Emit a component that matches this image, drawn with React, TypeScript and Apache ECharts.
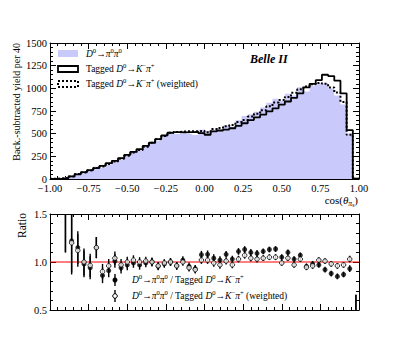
import React, { useEffect, useRef } from 'react';
import * as echarts from 'echarts';

const SERIF = '"Liberation Serif", "DejaVu Serif", serif';

// histogram binning: 50 bins of 0.04 from -1 to 1
const BIN_LOW = -1;
const BIN_WIDTH = 0.04;

// Tagged D0 -> K- pi+ (solid)
const taggedYield = [
  2, 5, 10, 28, 52, 75, 98, 120, 145, 175,
  200, 230, 265, 300, 330, 365, 400, 440, 480, 510,
  518, 515, 518, 520, 505, 488, 525, 535, 545, 560,
  585, 615, 650, 680, 710, 745, 780, 820, 855, 895,
  945, 1010, 1050, 1090, 1150, 1135, 1085, 945, 540, 4,
];

// D0 -> pi0 pi0 (filled)
const pi0pi0Yield = [
  3, 7, 16, 34, 60, 73, 92, 138, 125, 159,
  202, 216, 257, 297, 320, 361, 400, 420, 470, 510,
  497, 525, 495, 484, 543, 527, 546, 546, 589, 577,
  649, 695, 715, 741, 788, 842, 885, 861, 941, 922,
  1011, 965, 1029, 1057, 1058, 999, 922, 822, 502, 2,
];

// Tagged D0 -> K- pi+ (weighted, dotted)
const weightedYield = [
  3, 6, 12, 28, 54, 73, 95, 120, 139, 166,
  194, 223, 257, 291, 320, 357, 400, 438, 475, 510,
  518, 525, 527, 526, 532, 517, 552, 563, 583, 595,
  630, 650, 688, 719, 758, 802, 843, 870, 905, 951,
  990, 1020, 1045, 1060, 1050, 1010, 955, 850, 487, 2,
];

// ratio panel
const ratioTagged = [
  null, null, 1.65, 1.22, 1.15, 0.98, 0.94, 1.15, 0.86, 0.91,
  1.01, 0.94, 0.97, 0.99, 0.97, 0.99, 1.0, 0.955, 0.98, 1.0,
  0.96, 1.02, 0.955, 0.93, 1.076, 1.08, 1.04, 1.02, 1.08, 1.03,
  1.11, 1.13, 1.1, 1.09, 1.11, 1.13, 1.135, 1.05, 1.1, 1.03,
  1.07, 0.955, 0.98, 0.97, 0.92, 0.88, 0.85, 0.87, 0.93, 0.2,
];
const ratioWeighted = [
  null, null, 1.65, 1.2, 1.12, 1.0, 0.965, 1.15, 0.9, 0.96,
  1.04, 0.97, 1.0, 1.02, 1.0, 1.01, 1.0, 0.96, 0.99, 1.0,
  0.96, 1.0, 0.94, 0.92, 1.02, 1.02, 0.99, 0.97, 1.01, 0.97,
  1.03, 1.07, 1.04, 1.03, 1.04, 1.05, 1.05, 0.99, 1.04, 0.97,
  1.03, 0.945, 0.96, 1.02, 1.01, 0.98, 0.96, 0.97, 1.03, 0.2,
];
const ratioError = [
  null, null, 0.55, 0.33, 0.17, 0.14, 0.12, 0.11, 0.08, 0.07,
  0.07, 0.06, 0.055, 0.05, 0.05, 0.045, 0.045, 0.04, 0.04, 0.04,
  0.04, 0.04, 0.04, 0.04, 0.04, 0.04, 0.04, 0.04, 0.035, 0.035,
  0.035, 0.035, 0.035, 0.035, 0.03, 0.03, 0.03, 0.03, 0.03, 0.03,
  0.03, 0.03, 0.03, 0.03, 0.03, 0.03, 0.03, 0.03, 0.035, 0.46,
];

const X_MIN = -1, X_MAX = 1, X_STEP = 0.25;
const Y_MIN = 0, Y_MAX = 1500, Y_STEP = 250;
const R_MIN = 0.5, R_MAX = 1.5, R_STEP = 0.5;

const FILL = '#c9c9fb';

const edge = (i: number) => Number((BIN_LOW + i * BIN_WIDTH).toFixed(4));
const center = (i: number) => Number((BIN_LOW + (i + 0.5) * BIN_WIDTH).toFixed(4));

function stepData(vals: number[]) {
  const d: number[][] = vals.map((v, i) => [edge(i), v]);
  d.push([edge(vals.length), vals[vals.length - 1]]);
  return d;
}

function ratioData(vals: (number | null)[]) {
  const out: number[][] = [];
  vals.forEach((v, i) => {
    if (v !== null && ratioError[i] !== null) out.push([center(i), v, ratioError[i] as number]);
  });
  return out;
}

const errRender = (params: any, api: any) => {
  const x = api.value(0), y = api.value(1), e = api.value(2);
  const p1 = api.coord([x, y - e]);
  const p2 = api.coord([x, y + e]);
  return {
    type: 'line',
    shape: { x1: p1[0], y1: p1[1], x2: p2[0], y2: p2[1] },
    style: { stroke: '#000', lineWidth: 1.4 },
  };
};

const fmtX = (v: number) => (v < 0 ? '\u2212' : '') + Math.abs(v).toFixed(2);

const tick = {
  axisLine: { show: true, onZero: false, lineStyle: { color: '#000', width: 1 } },
  axisTick: { show: true, inside: true, length: 6, lineStyle: { color: '#000', width: 1 } },
  minorTick: { show: true, splitNumber: 5, length: 3, lineStyle: { color: '#000', width: 1 } },
  splitLine: { show: false },
  minorSplitLine: { show: false },
};

const labelStyle = { fontFamily: SERIF, fontSize: 10.5, color: '#000' };

const richBase = (size: number) => ({
  i: { fontFamily: SERIF, fontSize: size, fontStyle: 'italic', fill: '#000', lineHeight: 15, verticalAlign: 'middle' },
  n: { fontFamily: SERIF, fontSize: size, fill: '#000', lineHeight: 15, verticalAlign: 'middle' },
  sup: { fontFamily: SERIF, fontSize: size * 0.7, fill: '#000', lineHeight: 9, verticalAlign: 'top' },
  sub: { fontFamily: SERIF, fontSize: size * 0.7, fontStyle: 'italic', fill: '#000', lineHeight: 9, verticalAlign: 'bottom' },
  subsub: { fontFamily: SERIF, fontSize: size * 0.5, fill: '#000', lineHeight: 6, verticalAlign: 'bottom' },
});

const D0 = '{i|D}{sup|0}';
const PIPI = '{n|\u2192}{i|\u03c0}{sup|0}{i|\u03c0}{sup|0}';
const KPI = '{n|\u2192}{i|K}{sup|\u2212}{i|\u03c0}{sup|+}';

function richText(x: number, y: number, text: string, size: number, align = 'left') {
  return {
    type: 'text',
    x,
    y,
    style: {
      text,
      rich: richBase(size),
      fontFamily: SERIF,
      fontSize: size,
      fill: '#000',
      align,
      verticalAlign: 'middle',
    },
  };
}

export default function App() {
  const ref = useRef<HTMLDivElement>(null);

  useEffect(() => {
    if (!ref.current) return;
    const chart = echarts.init(ref.current, null, { renderer: 'svg' });

    const gridTop = { left: 50, top: 43, width: 309, height: 136 };
    const gridBot = { left: 50, top: 214, width: 309, height: 96 };

    const xBase = { type: 'value', min: X_MIN, max: X_MAX, interval: X_STEP, ...tick };

    chart.setOption({
      animation: false,
      backgroundColor: '#fff',
      grid: [gridTop, gridBot],
      xAxis: [
        { ...xBase, gridIndex: 0, position: 'bottom', axisLabel: { ...labelStyle, margin: 4, formatter: fmtX } },
        { ...xBase, gridIndex: 0, position: 'top', axisLabel: { show: false } },
        { ...xBase, gridIndex: 1, position: 'bottom', axisLabel: { show: false } },
        { ...xBase, gridIndex: 1, position: 'top', axisLabel: { show: false } },
      ],
      yAxis: [
        { type: 'value', gridIndex: 0, position: 'left', min: Y_MIN, max: Y_MAX, interval: Y_STEP, ...tick,
          axisLabel: { ...labelStyle, margin: 3, formatter: (v: number) => String(v) } },
        { type: 'value', gridIndex: 0, position: 'right', min: Y_MIN, max: Y_MAX, interval: Y_STEP, ...tick,
          axisLabel: { show: false } },
        { type: 'value', gridIndex: 1, position: 'left', min: R_MIN, max: R_MAX, interval: R_STEP, ...tick,
          axisLabel: { ...labelStyle, margin: 3, formatter: (v: number) => v.toFixed(1) } },
        { type: 'value', gridIndex: 1, position: 'right', min: R_MIN, max: R_MAX, interval: R_STEP, ...tick,
          axisLabel: { show: false } },
      ],
      series: [
        {
          type: 'line', xAxisIndex: 0, yAxisIndex: 0, step: 'end', symbol: 'none',
          data: stepData(pi0pi0Yield), lineStyle: { width: 0 },
          areaStyle: { color: FILL, opacity: 1 }, z: 1,
        },
        {
          type: 'line', xAxisIndex: 0, yAxisIndex: 0, step: 'end', symbol: 'none',
          data: stepData(taggedYield), lineStyle: { color: '#000', width: 1.8 }, z: 3,
        },
        {
          type: 'line', xAxisIndex: 0, yAxisIndex: 0, step: 'end', symbol: 'none',
          data: stepData(weightedYield), lineStyle: { color: '#000', width: 2, type: [2, 2] }, z: 4,
        },
        {
          type: 'line', xAxisIndex: 2, yAxisIndex: 2, symbol: 'none',
          data: [[X_MIN, 1], [X_MAX, 1]], lineStyle: { color: '#ff0000', width: 1.2 }, z: 2,
        },
        {
          type: 'custom', xAxisIndex: 2, yAxisIndex: 2, renderItem: errRender, clip: true,
          encode: { x: 0, y: 1 }, data: ratioData(ratioTagged), z: 3,
        },
        {
          type: 'scatter', xAxisIndex: 2, yAxisIndex: 2, symbol: 'circle', symbolSize: 5, clip: true,
          data: ratioData(ratioTagged).map((d) => [d[0], d[1]]), itemStyle: { color: '#000' }, z: 4,
        },
        {
          type: 'custom', xAxisIndex: 2, yAxisIndex: 2, renderItem: errRender, clip: true,
          encode: { x: 0, y: 1 }, data: ratioData(ratioWeighted), z: 5,
        },
        {
          type: 'scatter', xAxisIndex: 2, yAxisIndex: 2, symbol: 'circle', symbolSize: 4.5, clip: true,
          data: ratioData(ratioWeighted).map((d) => [d[0], d[1]]),
          itemStyle: { color: '#fff', borderColor: '#000', borderWidth: 1 }, z: 6,
        },
      ],
      graphic: [
        {
          type: 'text', x: 16, y: 43, rotation: Math.PI / 2,
          style: { text: 'Back.-subtracted yield per 40', fontFamily: SERIF, fontSize: 10, fill: '#000', align: 'right', verticalAlign: 'middle' },
        },
        {
          type: 'text', x: 22, y: 213, rotation: Math.PI / 2,
          style: { text: 'Ratio', fontFamily: SERIF, fontSize: 11.5, fill: '#000', align: 'right', verticalAlign: 'middle' },
        },
        {
          type: 'text', x: 250, y: 59,
          style: { text: 'Belle II', fontFamily: SERIF, fontSize: 12, fontWeight: 'bold', fontStyle: 'italic', fill: '#000', align: 'left', verticalAlign: 'middle' },
        },
        richText(358, 200, '{n|cos(}{i|\u03b8}{sub|\u03c0}{subsub|s}{n|)}', 11, 'right'),
        // top legend
        { type: 'rect', shape: { x: 58, y: 50, width: 20, height: 7 }, style: { fill: FILL } },
        richText(86, 54, D0 + PIPI, 9.5),
        { type: 'rect', shape: { x: 58, y: 66, width: 20, height: 6 }, style: { fill: 'none', stroke: '#000', lineWidth: 1.8 } },
        richText(86, 69, '{n|Tagged }' + D0 + KPI, 9.5),
        { type: 'rect', shape: { x: 58, y: 81, width: 20, height: 6 }, style: { fill: 'none', stroke: '#000', lineWidth: 2, lineDash: [2, 2] } },
        richText(86, 84, '{n|Tagged }' + D0 + KPI + '{n| (weighted)}', 9.5),
        // ratio legend
        { type: 'line', shape: { x1: 115, y1: 274, x2: 115, y2: 286 }, style: { stroke: '#000', lineWidth: 1.4 } },
        { type: 'circle', shape: { cx: 115, cy: 280, r: 2.5 }, style: { fill: '#000' } },
        richText(132, 280, D0 + PIPI + '{n| / Tagged }' + D0 + KPI, 9.5),
        { type: 'line', shape: { x1: 115, y1: 290, x2: 115, y2: 302 }, style: { stroke: '#000', lineWidth: 1.4 } },
        { type: 'circle', shape: { cx: 115, cy: 296, r: 2.3 }, style: { fill: '#fff', stroke: '#000', lineWidth: 1 } },
        richText(132, 296, D0 + PIPI + '{n| / Tagged }' + D0 + KPI + '{n| (weighted)}', 9.5),
      ],
    });

    return () => chart.dispose();
  }, []);

  return (
    <div
      ref={ref}
      style={{ position: 'absolute', left: 0, top: 0, width: 399, height: 349, background: '#fff' }}
    />
  );
}
